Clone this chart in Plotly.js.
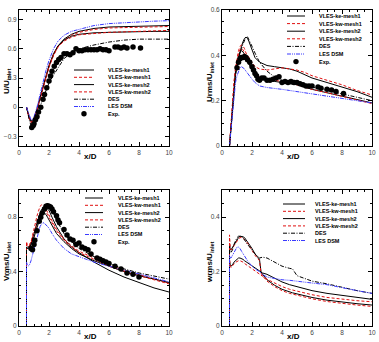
<!DOCTYPE html>
<html><head><meta charset="utf-8">
<script src="https://cdn.plot.ly/plotly-3.0.1.min.js"></script>
<style>html,body{margin:0;padding:0;background:#fff}#g{width:379px;height:342px}</style>
</head><body><div id="g"></div>
<script>
// ---------- DATA ----------
const seriesNames = ["VLES-ke-mesh1","VLES-kw-mesh1","VLES-ke-mesh2","VLES-kw-mesh2","DES","LES DSM"];
const expName = "Exp.";

// Panel 1: U/U_inlet
const xU = [0.5,0.6,0.7,0.8,0.9,1.0,1.2,1.4,1.6,1.8,2.0,2.3,2.6,3.0,3.5,4.0,5.0,6.0,7.0,8.0,9.0,10.0];
const U_keM1 = [0,-0.07,-0.12,-0.15,-0.15,-0.12,-0.03,0.09,0.21,0.32,0.42,0.54,0.63,0.70,0.75,0.78,0.81,0.825,0.83,0.835,0.838,0.84];
const U_kwM1 = [0,-0.08,-0.13,-0.16,-0.16,-0.13,-0.04,0.08,0.20,0.31,0.41,0.53,0.62,0.69,0.74,0.77,0.80,0.815,0.82,0.825,0.828,0.83];
const U_keM2 = [0,-0.06,-0.11,-0.14,-0.14,-0.11,-0.02,0.10,0.22,0.33,0.43,0.55,0.63,0.69,0.73,0.75,0.765,0.77,0.775,0.778,0.78,0.78];
const U_kwM2 = [0,-0.07,-0.12,-0.15,-0.15,-0.12,-0.03,0.09,0.21,0.32,0.42,0.54,0.62,0.68,0.72,0.745,0.76,0.77,0.775,0.78,0.785,0.79];
const U_DES  = [0,-0.08,-0.14,-0.19,-0.20,-0.18,-0.10,0.0,0.09,0.17,0.25,0.33,0.40,0.50,0.56,0.60,0.64,0.67,0.69,0.70,0.70,0.70];
const U_LES  = [0,-0.05,-0.10,-0.13,-0.13,-0.10,0.0,0.13,0.26,0.38,0.48,0.60,0.68,0.74,0.78,0.80,0.84,0.86,0.87,0.88,0.885,0.89];
const U_expX = [0.85,0.95,1.0,1.1,1.2,1.3,1.45,1.6,1.7,1.85,2.0,2.1,2.2,2.35,2.5,2.65,2.8,3.0,3.2,3.4,3.6,3.8,4.0,4.2,4.4,4.6,4.8,5.0,5.2,5.4,5.6,5.8,6.0,6.4,6.6,6.8,7.0,7.2,7.6,8.1];
const U_expY = [-0.21,-0.19,-0.17,-0.13,-0.10,-0.05,0.0,0.08,0.13,0.20,0.27,0.32,0.37,0.42,0.46,0.49,0.51,0.55,0.55,0.54,0.56,0.60,0.58,0.58,0.59,0.59,0.59,0.59,0.59,0.60,0.59,0.59,0.58,0.62,0.62,0.61,0.62,0.61,0.62,0.61];

// Panel 2: Urms/U_inlet
const xR = [0.5,0.6,0.7,0.8,0.9,1.0,1.1,1.2,1.3,1.4,1.5,1.6,1.7,1.8,2.0,2.2,2.5,3.0,3.5,4.0,4.5,5.0,5.5,6.0,7.0,8.0,9.0,10.0];
const R_keM1 = [0,0.09,0.18,0.26,0.32,0.36,0.39,0.42,0.44,0.46,0.475,0.48,0.475,0.46,0.42,0.39,0.37,0.355,0.35,0.345,0.34,0.33,0.315,0.30,0.28,0.26,0.24,0.215];
const R_kwM1 = [0,0.10,0.20,0.28,0.34,0.39,0.42,0.44,0.445,0.44,0.43,0.41,0.40,0.39,0.37,0.35,0.34,0.335,0.34,0.345,0.34,0.335,0.325,0.31,0.29,0.27,0.245,0.225];
const R_keM2 = [0,0.09,0.19,0.27,0.33,0.37,0.40,0.415,0.42,0.415,0.405,0.39,0.375,0.36,0.34,0.32,0.30,0.29,0.285,0.28,0.275,0.27,0.26,0.25,0.235,0.22,0.205,0.19];
const R_kwM2 = [0,0.10,0.20,0.28,0.34,0.38,0.41,0.425,0.43,0.425,0.41,0.395,0.38,0.365,0.345,0.325,0.305,0.295,0.29,0.285,0.28,0.27,0.26,0.25,0.235,0.22,0.205,0.187];
const R_DES  = [0,0.08,0.17,0.25,0.31,0.35,0.38,0.41,0.43,0.45,0.47,0.48,0.482,0.47,0.44,0.41,0.37,0.33,0.305,0.29,0.285,0.28,0.27,0.26,0.245,0.23,0.215,0.20];
const R_LES  = [0,0.08,0.16,0.23,0.28,0.31,0.33,0.345,0.35,0.345,0.34,0.33,0.32,0.31,0.295,0.28,0.265,0.258,0.255,0.25,0.245,0.24,0.235,0.23,0.22,0.21,0.20,0.19];
const R_expX = [1.0,1.1,1.2,1.3,1.4,1.5,1.6,1.7,1.85,2.0,2.1,2.2,2.3,2.4,2.5,2.65,2.8,3.0,3.2,3.4,3.6,3.8,4.0,4.2,4.4,4.6,4.8,5.0,5.2,5.4,5.6,5.8,6.0,6.4,6.6,7.0,7.3,7.6,8.1];
const R_expY = [0.345,0.37,0.385,0.39,0.39,0.395,0.39,0.38,0.37,0.35,0.335,0.32,0.31,0.295,0.29,0.30,0.30,0.29,0.29,0.295,0.30,0.305,0.28,0.285,0.28,0.285,0.28,0.28,0.275,0.27,0.265,0.265,0.265,0.26,0.255,0.25,0.247,0.24,0.232];

// Panel 3: Vrms/U_inlet
const xV = [0.5,0.5,0.55,0.6,0.7,0.8,0.9,1.0,1.1,1.2,1.3,1.4,1.5,1.6,1.7,1.8,1.9,2.0,2.2,2.5,3.0,3.5,4.0,5.0,6.0,7.0,8.0,9.0,10.0];
const V_keM1 = [0,0.58,0.58,0.58,0.59,0.61,0.64,0.68,0.72,0.76,0.80,0.83,0.855,0.865,0.87,0.87,0.86,0.85,0.80,0.73,0.64,0.58,0.54,0.47,0.41,0.36,0.32,0.28,0.25];
const V_kwM1 = [0,0.62,0.60,0.59,0.60,0.62,0.66,0.71,0.76,0.81,0.85,0.88,0.89,0.89,0.88,0.86,0.84,0.82,0.77,0.71,0.64,0.59,0.55,0.50,0.45,0.41,0.38,0.345,0.315];
const V_keM2 = [0,0.57,0.57,0.57,0.58,0.60,0.62,0.65,0.69,0.73,0.76,0.79,0.81,0.825,0.83,0.82,0.80,0.78,0.74,0.68,0.62,0.57,0.53,0.48,0.44,0.40,0.37,0.345,0.32];
const V_kwM2 = [0,0.60,0.59,0.58,0.59,0.61,0.64,0.68,0.72,0.76,0.79,0.82,0.84,0.85,0.85,0.84,0.82,0.80,0.76,0.70,0.63,0.58,0.54,0.49,0.44,0.40,0.37,0.34,0.31];
const V_DES  = [0,0.57,0.57,0.57,0.58,0.60,0.63,0.67,0.71,0.75,0.79,0.82,0.85,0.87,0.885,0.895,0.90,0.89,0.85,0.78,0.68,0.62,0.57,0.51,0.46,0.42,0.39,0.365,0.345];
const V_LES  = [0,0.47,0.45,0.44,0.45,0.48,0.52,0.57,0.62,0.66,0.70,0.73,0.75,0.76,0.755,0.745,0.735,0.72,0.68,0.63,0.57,0.53,0.51,0.47,0.44,0.41,0.38,0.35,0.325];
const V_expX = [0.8,0.9,1.0,1.05,1.2,1.35,1.45,1.55,1.7,1.8,1.9,2.0,2.1,2.2,2.3,2.5,2.6,2.7,3.0,3.2,3.4,3.6,3.8,4.0,4.2,4.4,4.6,4.8,5.2,5.4,5.6,5.8,6.0,6.4,6.8,7.2,7.6,8.0];
const V_expY = [0.57,0.56,0.60,0.63,0.70,0.77,0.80,0.83,0.86,0.88,0.885,0.88,0.875,0.86,0.84,0.81,0.78,0.76,0.71,0.67,0.64,0.63,0.60,0.61,0.58,0.57,0.56,0.53,0.50,0.49,0.48,0.47,0.46,0.44,0.42,0.39,0.38,0.36];

// Panel 4: wrms/U_inlet
const xW = [0.5,0.5,0.55,0.6,0.7,0.8,0.9,1.0,1.1,1.2,1.3,1.4,1.5,1.7,2.0,2.2,2.5,2.6,2.7,3.0,3.5,4.0,4.5,4.7,5.0,6.0,7.0,8.0,9.0,10.0];
const W_keM1 = [0,0.30,0.28,0.28,0.29,0.30,0.31,0.32,0.325,0.33,0.33,0.328,0.325,0.31,0.285,0.265,0.245,0.20,0.19,0.17,0.15,0.135,0.125,0.122,0.118,0.105,0.095,0.088,0.082,0.077];
const W_kwM1 = [0,0.335,0.29,0.28,0.285,0.295,0.305,0.315,0.32,0.325,0.325,0.322,0.318,0.305,0.28,0.26,0.24,0.195,0.185,0.165,0.145,0.13,0.12,0.117,0.113,0.10,0.09,0.083,0.077,0.072];
const W_keM2 = [0,0.24,0.225,0.22,0.225,0.235,0.24,0.245,0.25,0.25,0.248,0.245,0.24,0.232,0.22,0.212,0.20,0.198,0.195,0.19,0.175,0.162,0.152,0.149,0.145,0.13,0.12,0.112,0.105,0.098];
const W_kwM2 = [0,0.25,0.22,0.215,0.22,0.228,0.234,0.238,0.24,0.24,0.238,0.235,0.23,0.222,0.21,0.20,0.19,0.187,0.183,0.172,0.158,0.145,0.135,0.132,0.128,0.115,0.105,0.098,0.093,0.089];
const W_DES  = [0,0.28,0.27,0.27,0.28,0.30,0.315,0.325,0.33,0.33,0.33,0.325,0.315,0.30,0.28,0.265,0.25,0.252,0.253,0.25,0.235,0.22,0.212,0.21,0.185,0.165,0.155,0.142,0.13,0.12];
const W_LES  = [0,0.26,0.25,0.25,0.26,0.27,0.28,0.29,0.29,0.285,0.275,0.265,0.255,0.24,0.22,0.21,0.20,0.195,0.19,0.18,0.175,0.17,0.168,0.167,0.165,0.158,0.152,0.14,0.13,0.12];

const xTitles = ["x/D","x/D","x/D","x/D"];
const yTitles = ["U/U<sub>inlet</sub>","Urms/U<sub>inlet</sub>","Vrms/U<sub>inlet</sub>","wrms/U<sub>inlet</sub>"];

// ---------- STYLES / LAYOUT ----------
const W = 379, H = 342;
const styles = [
  {color:"#000000", dash:"solid", width:1},
  {color:"#e01010", dash:"3px,2px", width:1},
  {color:"#000000", dash:"solid", width:1},
  {color:"#e01010", dash:"3px,2px", width:1},
  {color:"#000000", dash:"4px,1.5px,1px,1.5px", width:1},
  {color:"#3a3aff", dash:"4px,1px,1px,1px,1px,1px", width:1}
];
// plot frames in pixels [left,right,top,bottom]
const frames = [[19,169,10,146],[222,372,10,146],[19,169,190,326],[222,372,190,326]];
const yRanges = [[-0.4,1.0],[0,0.6],[0,1.0],[0,0.5]];
const yDticks = [0.3,0.2,0.4,0.2];
const yMinor = [0.1,0.05,0.1,0.05];

const panels = [
  {x:xU, ys:[U_keM1,U_kwM1,U_keM2,U_kwM2,U_DES,U_LES], ex:U_expX, ey:U_expY},
  {x:xR, ys:[R_keM1,R_kwM1,R_keM2,R_kwM2,R_DES,R_LES], ex:R_expX, ey:R_expY},
  {x:xV, ys:[V_keM1,V_kwM1,V_keM2,V_kwM2,V_DES,V_LES], ex:V_expX, ey:V_expY},
  {x:xW, ys:[W_keM1,W_kwM1,W_keM2,W_kwM2,W_DES,W_LES], ex:null, ey:null}
];

const traces = [];
panels.forEach((p,i)=>{
  const xa = i===0?'x':'x'+(i+1), ya = i===0?'y':'y'+(i+1);
  p.ys.forEach((ys,k)=>{
    traces.push({type:'scatter', mode:'lines', x:p.x, y:ys, xaxis:xa, yaxis:ya,
      name:seriesNames[k], showlegend:false, line:{color:styles[k].color, dash:styles[k].dash, width:styles[k].width}});
  });
  if(p.ex){
    traces.push({type:'scatter', mode:'markers', x:p.ex, y:p.ey, xaxis:xa, yaxis:ya, name:expName, showlegend:false,
      marker:{color:'#000', size:5.5}});
  }
});

const layout = {width:W, height:H, margin:{l:0,r:0,t:0,b:0}, paper_bgcolor:'#fff', plot_bgcolor:'#fff',
  font:{family:'Liberation Sans, Arial', size:6.5, color:'#333'}, showlegend:false, shapes:[], annotations:[]};

frames.forEach((f,i)=>{
  const sx = i===0?'':String(i+1);
  const common = {showline:true, linecolor:'#000', linewidth:1, mirror:'ticks', ticks:'inside', ticklen:4, tickcolor:'#000', tickwidth:1,
    showgrid:false, zeroline:false, tickfont:{size:6.5, color:'#444', family:'Liberation Sans, Arial'}, fixedrange:true};
  layout['xaxis'+sx] = Object.assign({}, common, {domain:[f[0]/W, f[1]/W], anchor:'y'+sx, range:[0,10], dtick:2, tick0:0,
    minor:{ticks:'inside', ticklen:2, dtick:0.5, tickcolor:'#000'}});
  layout['yaxis'+sx] = Object.assign({}, common, {domain:[1-f[3]/H, 1-f[2]/H], anchor:'x'+sx, range:yRanges[i], dtick:yDticks[i], tick0:0,
    minor:{ticks:'inside', ticklen:2, dtick:yMinor[i], tickcolor:'#000'}});
  // axis titles
  layout.annotations.push({xref:'paper', yref:'paper', x:((f[0]+f[1])/2-4)/W, y:1-(f[3]+10)/H, text:'<b>'+xTitles[i]+'</b>',
    showarrow:false, font:{size:8, color:'#000'}, xanchor:'center', yanchor:'middle'});
  layout.annotations.push({xref:'paper', yref:'paper', x:(f[0]-12)/W, y:1-((f[2]+f[3])/2+4)/H, text:'<b>'+yTitles[i]+'</b>',
    showarrow:false, font:{size:8, color:'#000'}, textangle:-90, xanchor:'center', yanchor:'middle'});
});

// legends [lineStart, lineEnd, textX, firstRowY, rowGap] in px
const legendPos = [[74,94,106,70,7.3],[287,305,317,16,7.6],[85,103,116,198,7.3],[283,305,313,204,7.3]];
legendPos.forEach((L,i)=>{
  const n = seriesNames.length + (panels[i].ex?1:0);
  for(let k=0;k<n;k++){
    const yp = 1-(L[3]+k*L[4])/H;
    const label = k<seriesNames.length?seriesNames[k]:expName;
    if(k<seriesNames.length){
      layout.shapes.push({type:'line', xref:'paper', yref:'paper', x0:L[0]/W, x1:L[1]/W, y0:yp, y1:yp,
        line:{color:styles[k].color, dash:styles[k].dash, width:1}});
    } else {
      layout.shapes.push({type:'circle', xref:'paper', yref:'paper', xsizemode:'pixel', ysizemode:'pixel',
        xanchor:(L[0]+L[1])/2/W, yanchor:yp, x0:-2.7, x1:2.7, y0:-2.7, y1:2.7, fillcolor:'#000', line:{color:'#000', width:0}});
    }
    layout.annotations.push({xref:'paper', yref:'paper', x:L[2]/W, y:yp, text:'<b>'+label+'</b>', showarrow:false,
      xanchor:'left', yanchor:'middle', font:{size:5.5, color:'#000'}});
  }
});

Plotly.newPlot('g', traces, layout, {staticPlot:true});
</script></body></html>
